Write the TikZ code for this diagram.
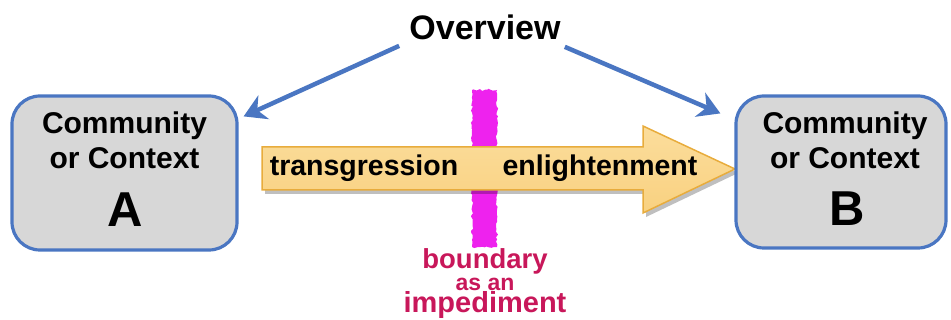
\documentclass[tikz,border=0pt]{standalone}
\usepackage{fontspec}
\setmainfont{Liberation Sans}
\usetikzlibrary{arrows.meta,calc,decorations.pathmorphing,shadows}
\definecolor{boxfill}{HTML}{D7D7D7}
\definecolor{boxedge}{HTML}{4A76C2}
\definecolor{connblue}{HTML}{4A76C2}
\definecolor{arrowfill}{HTML}{F9D180}
\definecolor{arrowtop}{HTML}{FBDD9C}
\definecolor{arrowedge}{HTML}{E8AC3C}
\definecolor{boundmag}{HTML}{EE22EE}
\definecolor{boundtxt}{HTML}{C8175A}
\tikzset{
  commbox/.style={draw=boxedge, line width=3.2pt, fill=boxfill, rounded corners=28pt, inner sep=0pt},
  lbl/.style={inner sep=0pt, anchor=base, font=\bfseries\fontsize{30}{30}\selectfont},
  biglbl/.style={inner sep=0pt, anchor=base, font=\bfseries\fontsize{49}{49}\selectfont},
  conn/.style={draw=connblue, line width=4.5pt, -{Stealth[length=22pt,width=26pt,inset=7pt]}},
  bndtxt/.style={inner sep=0pt, anchor=north, align=center, text=boundtxt, font=\bfseries\fontsize{29}{22}\selectfont},
}
\begin{document}
\begin{tikzpicture}[x=1pt,y=-1pt]
\useasboundingbox (0,0) rectangle (951,320);
% boundary stroke
\fill[boundmag, decorate, decoration={random steps, segment length=2.5pt, amplitude=1.2pt}]
  (472,90) rectangle (497,247);
% yellow arrow shadow
\fill[black, opacity=0.25] (265,151) -- (646,151) -- (646,130) -- (738,173) -- (646,217) -- (646,194) -- (265,194) -- cycle;
% yellow arrow
\draw[draw=arrowedge, line width=1.5pt, top color=arrowtop, bottom color=arrowfill, line join=miter]
  (262,147) -- (643,147) -- (643,126) -- (735,169) -- (643,213) -- (643,190) -- (262,190) -- cycle;
\node[lbl, font=\bfseries\fontsize{28.5}{28.5}\selectfont] (tr) at (364,176) {transgression};
\node[lbl, font=\bfseries\fontsize{28.5}{28.5}\selectfont] (en) at (600,176) {enlightenment};
% boxes
\node[commbox, minimum width=225pt, minimum height=154pt] (A) at (124.5,173) {};
\node[commbox, minimum width=210pt, minimum height=152pt] (B) at (841,172) {};
\node[lbl] (a1) at (124.5,134) {Community};
\node[lbl] (a2) at (124.5,169) {or Context};
\node[biglbl] (a3) at (125,227) {A};
\node[lbl] (b1) at (845,134) {Community};
\node[lbl] (b2) at (845,169) {or Context};
\node[biglbl] (b3) at (847,226) {B};
% overview
\node[lbl, font=\bfseries\fontsize{34}{34}\selectfont] (ov) at (485,40) {Overview};
\draw[conn] ($(ov.west)+(-10,18)$) -- ($(A.north east)+(5,22)$);
\draw[conn] ($(ov.east)+(4,19)$) -- ($(B.north west)+(-14,19)$);
% boundary text
\node[bndtxt] (bd) at (485,248) {{\fontsize{27.5}{22}\selectfont boundary}\\{\fontsize{23}{22}\selectfont as an}\\{\fontsize{29}{22}\selectfont impediment}};
\end{tikzpicture}
\end{document}
